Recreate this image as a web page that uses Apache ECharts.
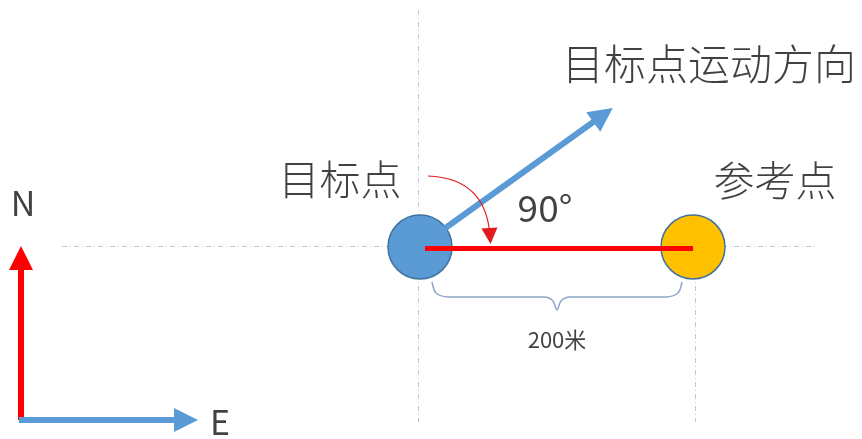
<!DOCTYPE html>
<html>
<head>
<meta charset="utf-8">
<script src="https://cdn.jsdelivr.net/npm/echarts@6/dist/echarts.min.js"></script>
<style>
html, body { margin: 0; padding: 0; background: #fff; }
#graph { width: 862px; height: 439px; }
</style>
</head>
<body>
<div id="graph"></div>
<script>
"use strict"

// canvas coords in px, y going down
const points = [
    { name: "目标点", pos: [420, 247], color: "#5b9bd5" },
    { name: "参考点", pos: [693, 247], color: "#ffc000" }
];
const guideLines = [
    [[62, 246], [815, 246]],
    [[418, 10], [418, 422]],
    [[695, 262], [695, 422]]
];
const distanceLine = [[425, 248], [693, 248]];
const moveArrow = [[444, 229], [603, 115]];
const northArrow = [[21, 420], [21, 258]];
const eastArrow = [[19, 420], [186, 420]];
const turnArrow = [[428, 176], [490, 236]];
const brace = [[432, 282], [436, 293], [448, 297], [544, 297], [553, 301], [557, 310], [561, 301], [570, 297], [666, 297], [678, 293], [682, 282]];
const labelTexts = ["目标点运动方向", "目标点", "参考点", "90°", "N", "E", "200米"];
const labelPos = [[709, 64], [340, 179], [775, 180], [545, 208], [23, 203], [220, 422], [557, 340]];
const labelSize = [42, 41, 41, 37, 34, 34, 22];
const labelWeight = [300, 300, 300, "normal", "normal", "normal", "normal"];

const myChart = echarts.init(document.getElementById("graph"), null, { renderer: "canvas" });

const dashStyle = { color: "#8497b0", width: 1, type: [5, 3, 1, 3] };

function arrowLines(name, coords, color, width, size, curveness)
{
    return {
        name: name,
        type: "lines",
        coordinateSystem: "cartesian2d",
        symbol: ["none", "triangle"],
        symbolSize: size,
        lineStyle: { color: color, width: width, curveness: curveness || 0, opacity: 1 },
        data: [{ coords: coords }],
        silent: true,
        z: 4
    };
}

const series = [
    {
        type: "lines",
        coordinateSystem: "cartesian2d",
        lineStyle: dashStyle,
        data: guideLines.map(c => ({ coords: c })),
        silent: true,
        z: 1
    },
    {
        type: "scatter",
        symbolSize: 64,
        data: points.map(p => ({ value: p.pos, itemStyle: { color: p.color } })),
        itemStyle: { borderColor: "#41719c", borderWidth: 1.5, opacity: 1 },
        silent: true,
        z: 3
    },
    {
        type: "lines",
        coordinateSystem: "cartesian2d",
        lineStyle: { color: "#ff0000", width: 5, opacity: 1 },
        data: [{ coords: distanceLine }],
        silent: true,
        z: 5
    },
    arrowLines("move", moveArrow, "#5b9bd5", 6, [22, 24]),
    arrowLines("north", northArrow, "#ff0000", 6, [22, 24]),
    arrowLines("east", eastArrow, "#5b9bd5", 6, [22, 24]),
    arrowLines("turn", turnArrow, "#e31a1c", 1.2, [14, 16], 0.45),
    {
        type: "line",
        data: brace,
        smooth: 0.3,
        symbol: "none",
        lineStyle: { color: "#8fa6c8", width: 1.5 },
        silent: true,
        z: 2
    },
    {
        type: "scatter",
        symbolSize: 0,
        data: labelTexts.map((t, i) => ({
            value: labelPos[i],
            label: { show: true, position: "inside", formatter: t, fontSize: labelSize[i], fontWeight: labelWeight[i] }
        })),
        label: { color: "#111", fontFamily: "Noto Sans CJK SC" },
        silent: true,
        z: 6
    }
];

myChart.setOption({
    animation: false,
    grid: { left: 0, right: 0, top: 0, bottom: 0 },
    xAxis: { type: "value", min: 0, max: 862, show: false },
    yAxis: { type: "value", min: 0, max: 439, inverse: true, show: false },
    series: series
});
</script>
</body>
</html>
